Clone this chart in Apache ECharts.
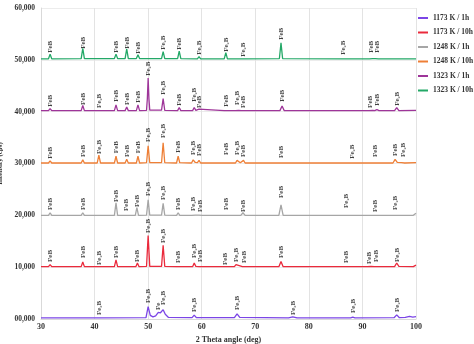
<!DOCTYPE html>
<html><head><meta charset="utf-8">
<script src="https://cdn.jsdelivr.net/npm/echarts@6/dist/echarts.min.js"></script>
<style>html,body{margin:0;padding:0;background:#fff}#c{width:474px;height:344px}</style>
</head><body><div id="c"></div>
<script>
const seriesNames = ['1173 K / 1h','1173 K / 10h','1248 K / 1h','1248 K / 10h','1323 K / 1h','1323 K / 10h'];
const A = 'FeB', B = 'Fe\u2082B';
const xTicks = [30,40,50,60,70,80,90,100];
const yTicks = [0,10000,20000,30000,40000,50000,60000];

const p1173_1h = [[30,200],[40.5,200],[40.8,450],[41.1,200],[49.6,250],[50.0,2400],[50.4,700],[50.9,400],[51.4,600],[51.9,1300],[52.3,1200],[52.8,1800],[53.2,900],[53.8,300],[58.2,250],[58.6,750],[59.0,250],[66.1,250],[66.6,1000],[67.1,300],[76.2,200],[77.0,400],[77.8,200],[87.8,200],[88.2,350],[88.6,200],[95.9,250],[96.4,800],[96.9,250],[98.0,300],[98.8,500],[99.4,350],[100,450]];
const p1173_10h = [[30,10100],[31.4,10100],[31.7,10500],[32.0,10100],[37.5,10100],[37.8,11000],[38.1,10100],[40.5,10100],[40.8,10250],[41.1,10100],[43.7,10100],[44.0,11400],[44.3,10100],[47.7,10100],[48.0,10800],[48.3,10100],[49.7,10150],[50.0,16100],[50.3,10150],[52.5,10150],[52.8,14200],[53.1,10150],[55.3,10100],[55.6,10300],[55.9,10100],[58.3,10100],[58.6,10800],[58.9,10150],[59.5,10100],[59.8,10250],[60.1,10100],[64.0,10100],[64.3,10250],[64.6,10100],[66.1,10100],[66.4,10500],[66.7,10150],[67.6,10100],[67.9,10300],[68.2,10100],[74.4,10100],[74.8,11100],[75.2,10100],[86.6,10100],[86.9,10200],[87.2,10100],[90.9,10100],[91.2,10250],[91.6,10150],[92.2,10100],[92.5,10300],[92.9,10100],[96.0,10100],[96.4,10800],[96.8,10150],[99.5,10100],[100,10400]];
const p1248_1h = [[30,20000],[31.4,20000],[31.7,20500],[32.0,20000],[37.5,20000],[37.8,20500],[38.1,20000],[43.7,20000],[44.0,22400],[44.3,20000],[45.6,20000],[45.9,20300],[46.2,20000],[47.6,20000],[47.9,21500],[48.2,20000],[49.7,20050],[50.0,23000],[50.3,20050],[52.5,20050],[52.8,22300],[53.1,20050],[55.3,20000],[55.6,20500],[55.9,20000],[58.1,20000],[58.4,20250],[58.8,20050],[59.5,20050],[59.8,20250],[60.1,20000],[64.2,20000],[64.5,20200],[64.8,20000],[67.3,20000],[67.7,20500],[68.1,20000],[74.4,20000],[74.8,22000],[75.2,20000],[86.6,20000],[86.9,20250],[87.2,20000],[92.0,20000],[92.3,20250],[92.6,20000],[95.8,20000],[96.1,20250],[96.4,20000],[99.5,20000],[100,20400]];
const p1248_10h = [[30,30100],[31.4,30100],[31.7,30500],[32.0,30100],[37.5,30100],[37.8,30700],[38.1,30100],[40.5,30100],[40.8,31600],[41.1,30100],[43.7,30100],[44.0,31400],[44.3,30100],[45.7,30100],[46.0,30800],[46.3,30100],[47.8,30100],[48.1,31400],[48.4,30100],[49.7,30150],[50.0,33400],[50.3,30150],[52.5,30150],[52.8,34000],[53.1,30150],[55.3,30100],[55.6,31400],[55.9,30150],[58.1,30100],[58.4,30700],[58.8,30200],[59.2,30150],[59.5,30600],[59.8,30100],[64.2,30100],[64.5,30400],[64.8,30100],[66.3,30100],[66.6,30600],[66.9,30250],[67.2,30150],[67.8,30600],[68.1,30100],[74.5,30100],[74.8,30400],[75.1,30100],[87.7,30100],[88.0,30250],[88.3,30100],[92.0,30100],[92.3,30250],[92.6,30100],[95.7,30100],[96.1,30800],[96.5,30200],[97.3,30150],[97.6,30500],[97.9,30100],[100,30150]];
const p1323_1h = [[30,40200],[31.4,40200],[31.7,40600],[32.0,40200],[37.5,40200],[37.8,41200],[38.1,40200],[40.5,40200],[40.8,40400],[41.1,40200],[43.7,40200],[44.0,41300],[44.3,40200],[45.7,40200],[46.0,40900],[46.3,40200],[47.8,40200],[48.1,41300],[48.4,40200],[49.7,40250],[49.85,42500],[50.0,46500],[50.15,42500],[50.3,40300],[52.5,40300],[52.8,42500],[53.1,40250],[55.5,40200],[55.8,40800],[56.1,40200],[58.3,40200],[58.6,40800],[58.9,40250],[59.2,40200],[59.5,40500],[59.8,40200],[64.2,40200],[64.5,40500],[64.8,40200],[66.3,40200],[66.6,40500],[66.9,40250],[67.4,40200],[67.7,40400],[68.0,40200],[74.6,40200],[75.0,41100],[75.4,40200],[91.2,40200],[91.5,40350],[91.9,40250],[92.3,40200],[92.7,40400],[93.1,40200],[96.0,40200],[96.4,40800],[96.8,40200],[100,40250]];
const p1323_10h = [[30,50200],[31.4,50200],[31.7,51100],[32.0,50200],[37.5,50250],[37.8,52200],[38.1,50250],[43.7,50250],[44.0,51100],[44.3,50250],[45.7,50250],[46.0,52100],[46.3,50250],[47.8,50250],[48.1,51000],[48.4,50250],[52.5,50250],[52.8,51600],[53.1,50250],[55.5,50250],[55.8,51700],[56.1,50250],[59.2,50200],[59.5,50600],[59.8,50200],[64.2,50200],[64.5,51400],[64.8,50200],[67.4,50200],[67.7,50500],[68.0,50200],[74.5,50250],[74.8,53300],[75.1,50250],[86.1,50200],[86.4,50500],[86.7,50200],[91.3,50200],[91.6,50500],[91.9,50250],[92.4,50250],[92.7,50600],[93.0,50200],[100,50200]];

const l1173_1h = [[40.8,770,B],[50.0,3090,B],[51.9,1740,'Fe'],[52.8,2700,B],[58.6,1350,B],[66.6,1740,B],[77.0,770,B],[88.2,1160,B],[96.4,1350,B]];
const l1173_10h = [[31.7,11000,A],[37.8,11780,A],[40.8,10420,B],[44.0,11780,A],[48.0,11000,A],[50.0,16600,B],[52.8,14670,B],[55.6,10810,A],[58.6,11780,B],[59.8,11000,A],[64.3,10420,A],[66.4,11000,B],[67.9,10810,A],[74.8,11780,A],[86.9,10810,A],[91.2,10620,A],[92.5,11000,A],[96.4,11000,B]];
const l1248_1h = [[31.7,21040,A],[37.8,21040,A],[44.0,22590,A],[45.9,20850,A],[47.9,21620,A],[50.0,23750,B],[52.8,22970,B],[55.6,21040,A],[58.4,20850,B],[59.8,20660,A],[64.5,21040,A],[67.7,20660,A],[74.8,23360,A],[86.9,21430,B],[92.3,20660,A],[96.1,21040,B]];
const l1248_10h = [[31.7,30900,A],[37.8,31270,A],[40.8,31850,B],[44.0,32000,A],[46.0,31270,A],[48.1,32000,A],[50.0,34170,B],[52.8,34940,B],[55.6,32050,A],[58.4,31660,B],[59.5,31470,A],[64.5,31660,A],[66.6,31660,B],[67.8,31270,A],[74.8,31080,A],[88.0,30900,B],[92.3,31270,A],[96.1,31470,A],[97.6,31270,B]];
const l1323_1h = [[31.7,40930,A],[37.8,41310,A],[40.8,40730,B],[44.0,41890,A],[46.0,41310,A],[48.1,41700,A],[50.0,46910,B],[52.8,43240,B],[55.8,41120,A],[58.6,41890,B],[59.5,40730,A],[64.5,40930,A],[66.6,41310,B],[67.7,40730,A],[75.0,41890,A],[91.5,40730,A],[92.7,41120,A],[96.4,41120,B]];
const l1323_10h = [[31.7,51350,A],[37.8,52120,A],[44.0,51350,A],[46.0,52120,A],[48.1,51160,A],[52.8,51930,B],[55.8,51930,A],[59.5,50970,B],[64.5,51540,B],[67.7,50580,B],[74.8,53860,A],[86.4,50970,B],[91.6,51350,A],[92.7,51350,A]];

const colors = ['#7B45E6','#EA2A3C','#A6A6A6','#EE7F36','#9E3599','#23A867'];
const lines = [p1173_1h,p1173_10h,p1248_1h,p1248_10h,p1323_1h,p1323_10h];
const labels = [l1173_1h,l1173_10h,l1248_1h,l1248_10h,l1323_1h,l1323_10h];
const serif = '"Liberation Serif","DejaVu Serif",serif';

const series = [];
lines.forEach((d,i)=>{
  series.push({name:seriesNames[i],type:'line',data:d,showSymbol:false,symbol:'none',
    lineStyle:{width:1.3,color:colors[i]},itemStyle:{color:colors[i]},z:2});
});
labels.forEach((d,i)=>{
  series.push({name:'lab'+i,type:'scatter',data:d,symbolSize:0,silent:true,z:3,
    label:{show:true,position:'inside',rotate:90,align:'left',verticalAlign:'middle',
      formatter:p=>p.value[2],fontFamily:serif,fontWeight:'bold',fontSize:7,color:'#111'}});
});

const chart = echarts.init(document.getElementById('c'),null,{renderer:'canvas'});
chart.setOption({
  animation:false,
  grid:{left:41,right:58,top:8,bottom:25,containLabel:false,outerBoundsMode:'none'},
  legend:{orient:'vertical',left:416,top:9,padding:[5,2,5,2],data:seriesNames,icon:'rect',itemWidth:10,itemHeight:2,itemGap:6.5,
    textStyle:{fontFamily:serif,fontWeight:'bold',fontSize:7.5,color:'#333'}},
  xAxis:{type:'value',min:xTicks[0],max:xTicks[xTicks.length-1],interval:10,
    name:'2 Theta angle (deg)',nameLocation:'middle',nameGap:16,
    nameTextStyle:{fontFamily:serif,fontWeight:'bold',fontSize:8,color:'#333'},
    axisLine:{lineStyle:{color:'#d9d9d9'}},axisTick:{show:false},
    axisLabel:{fontFamily:serif,fontWeight:'bold',fontSize:8,color:'#333',margin:4},
    splitLine:{show:true,lineStyle:{color:'#e3e3e3',width:1}}},
  yAxis:{type:'value',min:yTicks[0],max:yTicks[yTicks.length-1],interval:10000,
    name:'Intensity (cps)',nameLocation:'middle',nameGap:28,nameRotate:90,
    nameTextStyle:{fontFamily:serif,fontWeight:'bold',fontSize:7,color:'#333'},
    axisLine:{show:true,lineStyle:{color:'#d9d9d9'}},axisTick:{show:false},
    axisLabel:{fontFamily:serif,fontWeight:'bold',fontSize:7.5,color:'#333',margin:6,
      formatter:v=>{const k=v/1000;return (k<10?'0'+k:k)+',000';}},
    splitLine:{show:true,lineStyle:{color:'#ececec',width:1}}},
  series:series
});
</script></body></html>
